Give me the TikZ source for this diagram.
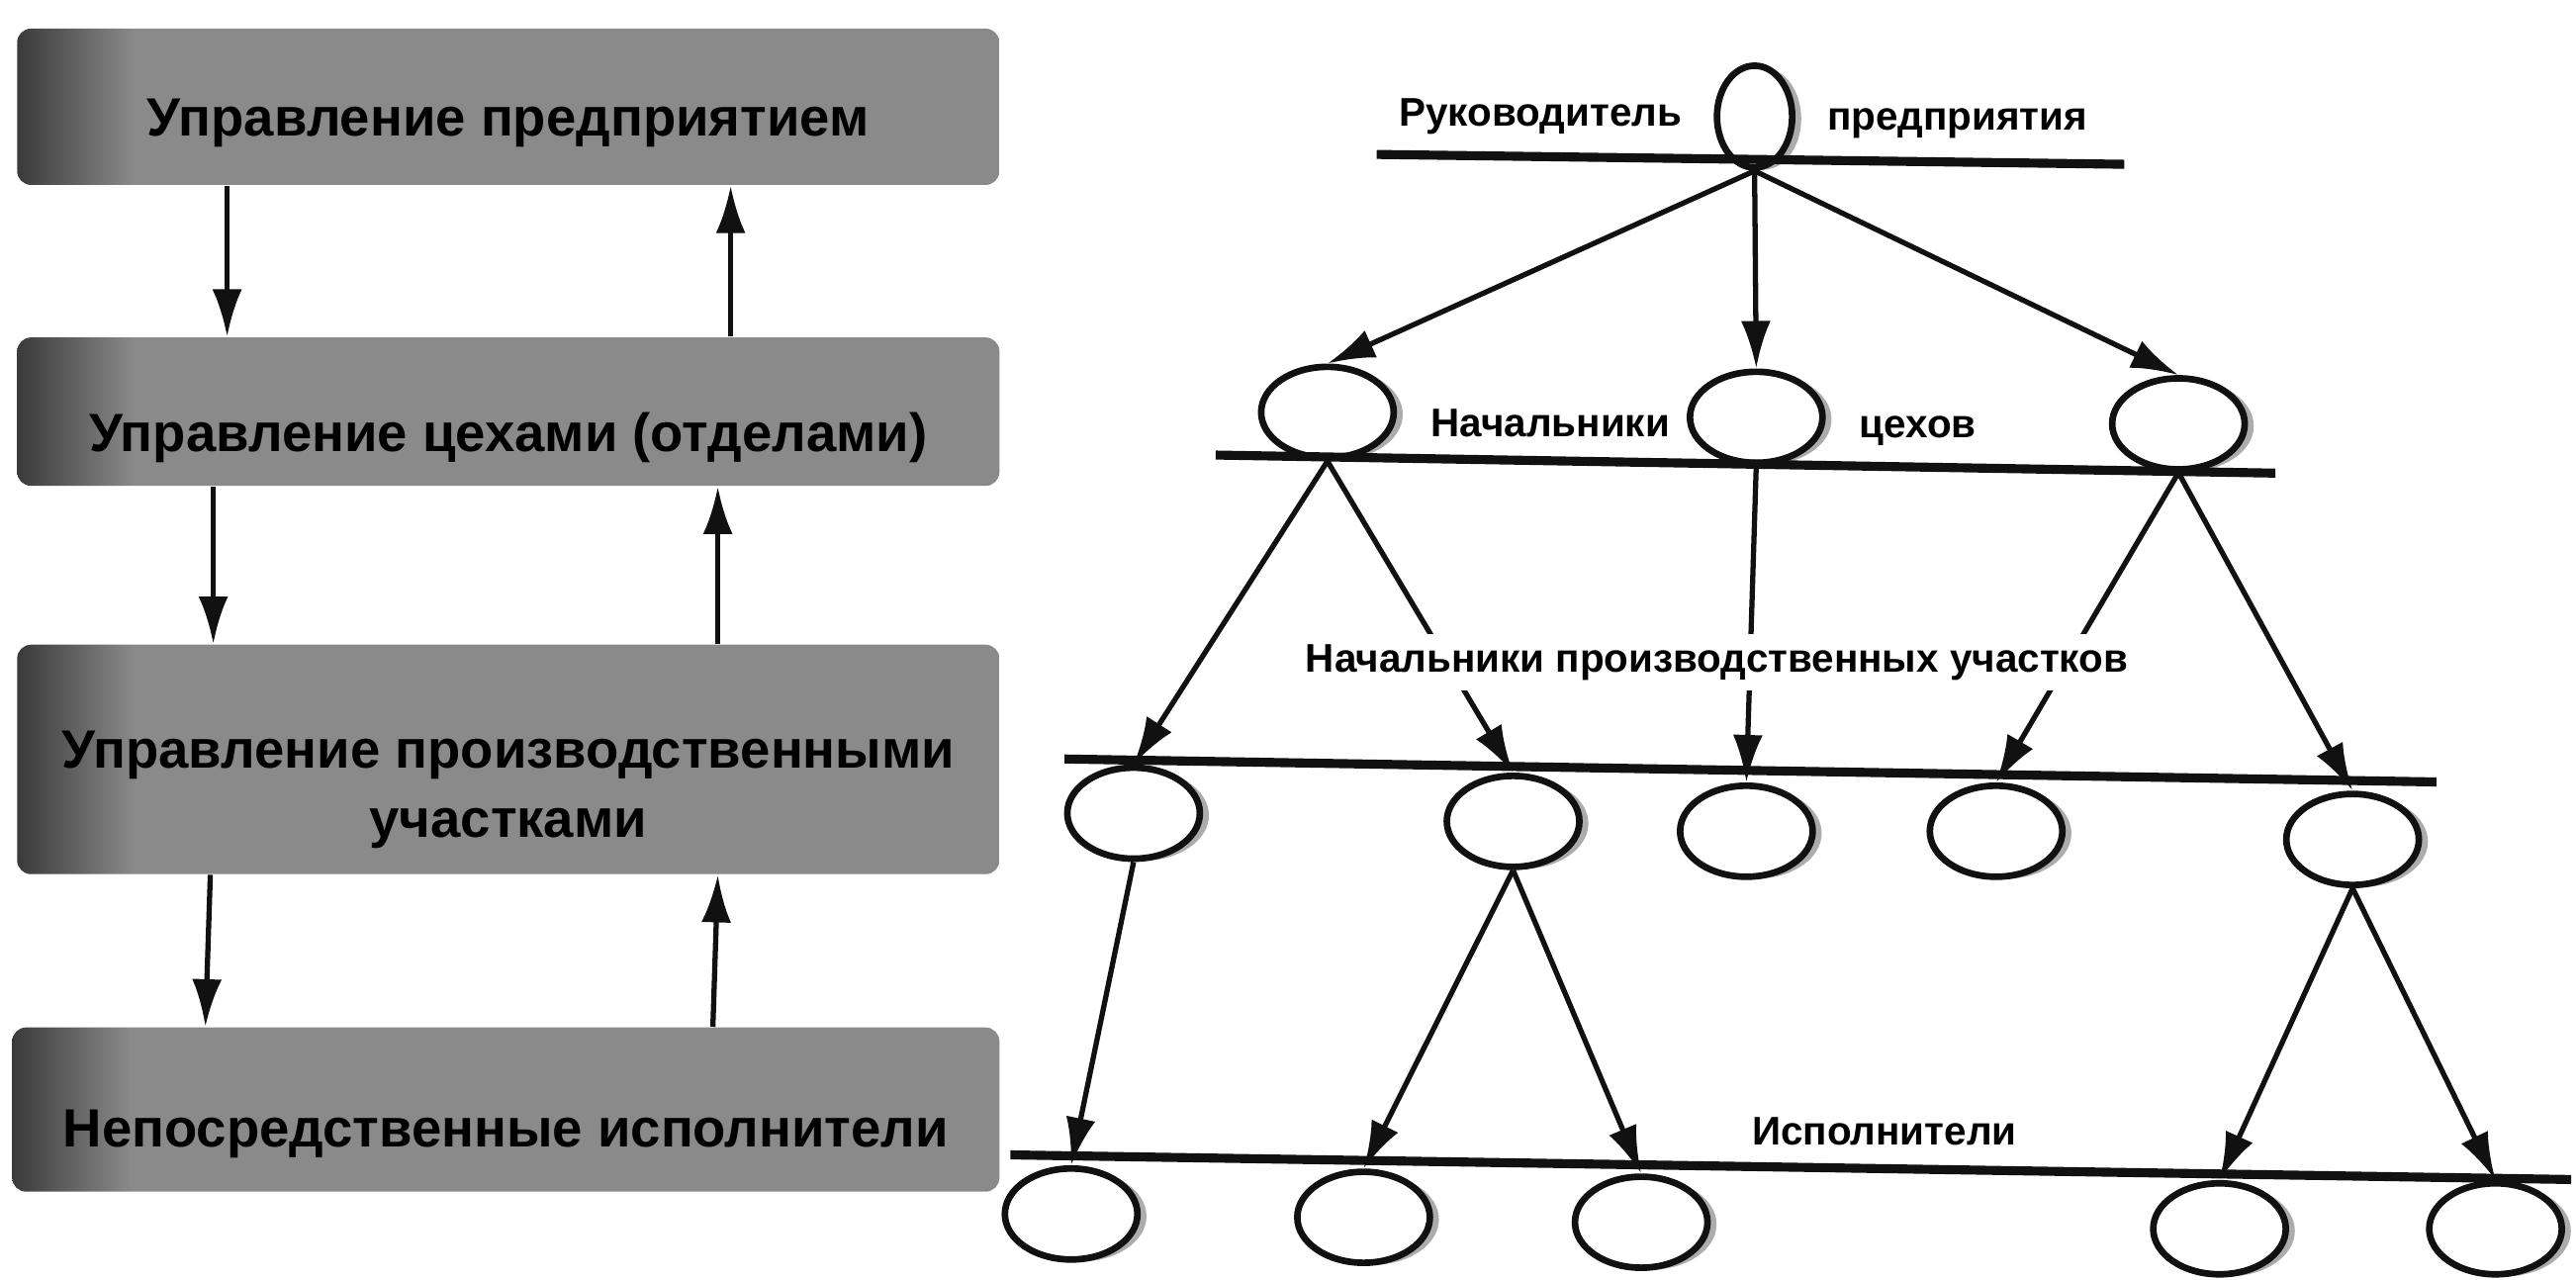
\documentclass[tikz,border=0pt]{standalone}
\usepackage{fontspec}
\setmainfont{Liberation Sans}
\usepackage{xcolor}
\definecolor{boxfill}{HTML}{8A8A8A}
\definecolor{boxedge}{HTML}{3A3A3A}
\definecolor{ink}{HTML}{111111}
\usepackage{tikz}
\usetikzlibrary{arrows.meta, positioning, calc, shapes.geometric, shadows}
\pgfdeclarehorizontalshading{levelshade}{100bp}{%
  color(0bp)=(boxedge); color(25bp)=(boxedge); color(31bp)=(boxfill);
  color(100bp)=(boxfill)}

\begin{document}
\begin{tikzpicture}[
  x=0.16607mm, y=-0.16607mm,
  font=\bfseries,
  level/.style={
    shading=levelshade, rounded corners=4pt, anchor=north west,
    minimum width=9.93cm, align=center, inner sep=0pt,
    font=\fontsize{15.5}{20}\selectfont\bfseries
  },
  post/.style={
    ellipse, draw=ink, line width=1.9pt, fill=white,
    minimum width=1.34cm, minimum height=0.92cm,
    drop shadow={shadow xshift=2.6pt, shadow yshift=-0.6pt, fill=black!65}
  },
  tier/.style={ink, line width=2.6pt},
  link/.style={-{Latex[length=4.8mm, width=3mm]}, ink, line width=1.5pt},
  lbl/.style={font=\fontsize{11.5}{13}\selectfont\bfseries, inner sep=1pt}
]
  \useasboundingbox (0,0) rectangle (1568,779);

  % left column: levels of management
  \node[level, minimum height=1.58cm] (b1) at (10,17)
    {\mbox{}\\[0pt]Управление предприятием};
  \node[level, minimum height=1.50cm] (b2) at (10,205)
    {\mbox{}\\[6pt]Управление цехами (отделами)};
  \node[level, minimum height=2.32cm] (b3) at (10,392)
    {\mbox{}\\[8pt]Управление производственными\\участками};
  \node[level, minimum height=1.66cm, minimum width=9.98cm] (b4) at (7,625)
    {\mbox{}\\[5pt]Непосредственные исполнители};

  \foreach \a/\b/\dn/\up in {b1/b2/2.13/7.22, b2/b3/1.99/7.09, b3/b4/1.96/7.09} {
    \draw[link] ([xshift=\dn cm]\a.south west) -- ([xshift=\dn cm]\b.north west);
    \draw[link] ([xshift=\up cm]\b.north west) -- ([xshift=\up cm]\a.south west);
  }

  % right column: the tree
  \node[post, minimum width=0.76cm, minimum height=1.03cm] (head) at (1068,71) {};
  \node[lbl, left=0.28cm of head] (hl) {Руководитель};
  \node[lbl, right=0.28cm of head, yshift=-2pt] (hr) {предприятия};
  \draw[tier] (838,94) -- (1293,100);

  \node[post] (c1) at (808,251) {};
  \node[post] (c2) at (1069,254) {};
  \node[post] (c3) at (1326,258) {};
  \node[lbl, right=0.3cm of c1, yshift=-3pt] (cl) {Начальники};
  \node[lbl, right=0.3cm of c2, yshift=-4pt] (cr) {цехов};
  \draw[tier] (740,277) -- (1385,288);

  \foreach \c in {c1,c2,c3}
    \draw[link] (head.south) -- (\c.north);

  \node[post] (u1) at (690,495) {};
  \node[post] (u2) at (921,500) {};
  \node[post] (u3) at (1063,506) {};
  \node[post] (u4) at (1215,506) {};
  \node[post] (u5) at (1432,511) {};
  \draw[tier] (648,462) -- (1483,476);

  \foreach \p/\q in {c1/u1, c1/u2, c2/u3, c3/u4, c3/u5}
    \draw[link] (\p.south) -- (\q.north);

  \node[lbl, fill=white, inner sep=3pt] (ul) at (1045,403)
    {Начальники производственных участков};

  \node[post] (w1) at (652,739) {};
  \node[post] (w2) at (830,741) {};
  \node[post] (w3) at (999,744) {};
  \node[post] (w4) at (1351,748) {};
  \node[post] (w5) at (1519,748) {};
  \draw[tier] (615,703) -- (1565,718);

  \foreach \p/\q in {u1/w1, u2/w2, u2/w3, u5/w4, u5/w5}
    \draw[link] (\p.south) -- (\q.north);

  \node[lbl] (wl) at (1147,689) {Исполнители};
\end{tikzpicture}
\end{document}
